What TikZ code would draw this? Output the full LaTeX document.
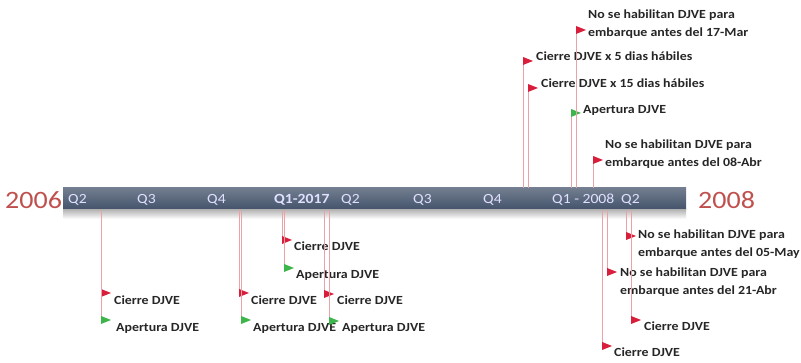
\documentclass[tikz,border=0pt]{standalone}
\usepackage{fontspec}
\setmainfont{Carlito}[FakeStretch=1.12]
\definecolor{barcol}{HTML}{43526A}
\definecolor{flagred}{HTML}{D81E3A}
\definecolor{flaggreen}{HTML}{3DB54A}
\definecolor{yearred}{HTML}{C0504D}
\definecolor{linecol}{HTML}{E9A3A6}

\begin{document}
\begin{tikzpicture}[x=1pt,y=-1pt,
  markline/.style={linecol,line width=0.6pt},
  lbl/.style={anchor=base west,inner sep=0pt,align=left,text=black!85,font=\fontsize{12.4}{18}\selectfont\bfseries},
  qlbl/.style={anchor=west,inner sep=0pt,text=white!88!blue,font=\fontsize{14}{16}\selectfont},
  year/.style={anchor=west,inner sep=0pt,text=yearred,font=\fontsize{25}{28}\selectfont}]
  \useasboundingbox (0,0) rectangle (801,363);
  % barra de tiempo
  \shade[top color=barcol!75!white,bottom color=barcol] (63,188) rectangle (686,210);
  \shade[top color=black!28,bottom color=white] (63,210) rectangle (686,219);
  \foreach \x/\q [count=\i] in {68/Q2,137/Q3,207/Q4,274/\textbf{Q1-2017},341/Q2,413/Q3,483/Q4,552/Q1 - 2008,621/Q2}
    \node[qlbl] (q\i) at (\x,200) {\q};
  \node[year] (y2006) at (5,200) {2006};
  \node[year] (y2008) at (698,200) {2008};
  % hitos: nombre/base/x/bandera/color/texto x/texto y/texto
  \foreach \n/\b/\x/\y/\c/\tx/\ty/\t in {
    a1/188/523/61/flagred/536/61/{Cierre DJVE x 5 dias hábiles},
    a2/188/528/88/flagred/541/88/{Cierre DJVE x 15 dias hábiles},
    a3/188/571/113/flaggreen/583/114/{Apertura DJVE},
    a4/188/576/30/flagred/588/37/{No se habilitan DJVE para\\embarque antes del 17-Mar},
    a5/188/593/160/flagred/605/167/{No se habilitan DJVE para\\embarque antes del 08-Abr},
    b1/210/101/293/flagred/114/305/{Cierre DJVE},
    b2/210/101/320/flaggreen/116/332/{Apertura DJVE},
    b3/210/239/293/flagred/251/305/{Cierre DJVE},
    b4/210/241/320/flaggreen/253/332/{Apertura DJVE},
    b5/210/282/240/flagred/294/251/{Cierre DJVE},
    b6/210/284/268/flaggreen/296/279/{Apertura DJVE},
    b7/210/324/294/flagred/337/305/{Cierre DJVE},
    b8/210/329/321/flaggreen/342/332/{Apertura DJVE},
    b9/210/602/346/flagred/614/357/{Cierre DJVE},
    b10/210/607/272/flagred/620/295/{No se habilitan DJVE para\\embarque antes del 21-Abr},
    b11/210/626/236/flagred/638/257/{No se habilitan DJVE para\\embarque antes del 05-May},
    b12/210/631/320/flagred/644/331/{Cierre DJVE}}{
    \coordinate (e\n) at (\x,\b);
    \coordinate (f\n) at (\x,\y);
    \draw[markline] (e\n) -- (f\n);
    \fill[\c] (f\n) ++(0,-4) -- ++(10,4) -- ++(-10,4) -- cycle;
    \node[lbl] (t\n) at (\tx,\ty) {\t};}
\end{tikzpicture}
\end{document}
